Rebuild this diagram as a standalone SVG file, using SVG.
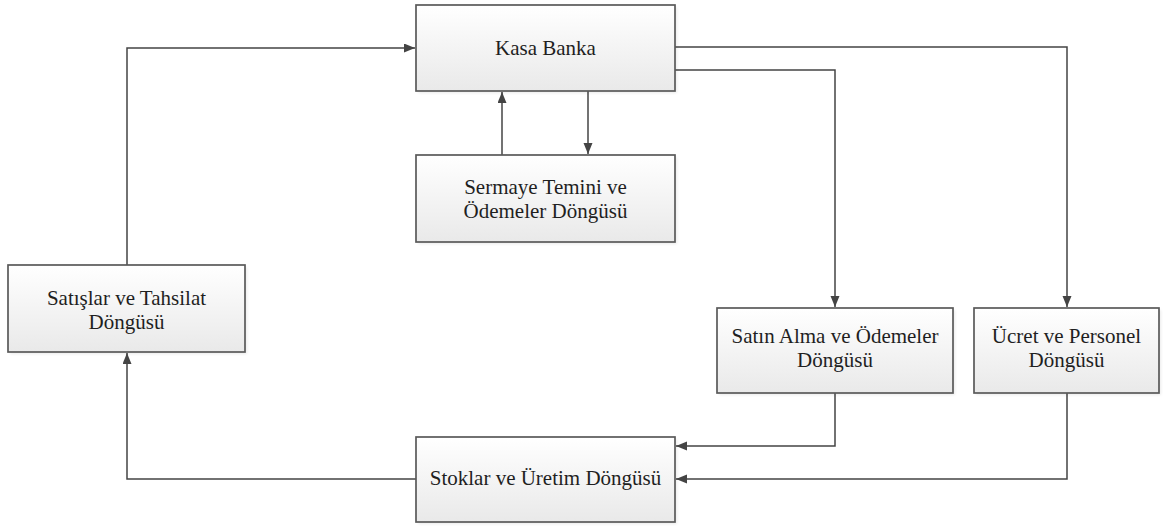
<svg xmlns="http://www.w3.org/2000/svg" width="1167" height="527" viewBox="0 0 1167 527">
  <style>
    .box { fill: url(#boxFill); stroke: #5a5a5a; stroke-width: 1.7; }
    .shadow { fill: #000; opacity: 0.08; }
    .label { font-family: 'Liberation Serif', 'Times New Roman', serif; font-size: 21px; fill: #1f1f1f; text-anchor: middle; }
    .link { fill: none; stroke: #444; stroke-width: 1.5; marker-end: url(#arrow); }
  </style>
  <defs>
    <linearGradient id="boxFill" x1="0" y1="0" x2="0" y2="1">
      <stop offset="0" stop-color="#ffffff"/>
      <stop offset="1" stop-color="#e9e9e9"/>
    </linearGradient>
    <filter id="soft" x="-10%" y="-10%" width="120%" height="130%">
      <feGaussianBlur stdDeviation="1.5"/>
    </filter>
    <marker id="arrow" markerUnits="userSpaceOnUse" markerWidth="12" markerHeight="10" refX="11" refY="4.5" orient="auto">
      <path d="M0,0 L11,4.5 L0,9 z" fill="#444"/>
    </marker>
  </defs>

  <!-- connectors -->
  <g id="connectors">
    <path class="link" d="M127,265 V48 H415"/>
    <path class="link" d="M502,155 V92"/>
    <path class="link" d="M588,91 V154"/>
    <path class="link" d="M675,47 H1067 V307"/>
    <path class="link" d="M675,70 H835 V307"/>
    <path class="link" d="M835,393 V446 H676"/>
    <path class="link" d="M1067,393 V479 H676"/>
    <path class="link" d="M416,479 H127 V353"/>
  </g>

  <g id="kasa-banka">
    <rect class="shadow" x="418" y="7" width="259" height="86" filter="url(#soft)"/>
    <rect class="box" x="416" y="5" width="259" height="86"/>
    <text class="label" x="545.5" y="55">Kasa Banka</text>
  </g>

  <g id="sermaye">
    <rect class="shadow" x="418" y="157" width="259" height="87" filter="url(#soft)"/>
    <rect class="box" x="416" y="155" width="259" height="87"/>
    <text class="label" x="545.5" y="194">Sermaye Temini ve</text>
    <text class="label" x="545.5" y="218">Ödemeler Döngüsü</text>
  </g>

  <g id="satislar">
    <rect class="shadow" x="10" y="267" width="237" height="87" filter="url(#soft)"/>
    <rect class="box" x="8" y="265" width="237" height="87"/>
    <text class="label" x="126.5" y="305">Satışlar ve Tahsilat</text>
    <text class="label" x="126.5" y="329">Döngüsü</text>
  </g>

  <g id="satin-alma">
    <rect class="shadow" x="719" y="310" width="236" height="85" filter="url(#soft)"/>
    <rect class="box" x="717" y="308" width="236" height="85"/>
    <text class="label" x="835" y="343">Satın Alma ve Ödemeler</text>
    <text class="label" x="835" y="367">Döngüsü</text>
  </g>

  <g id="ucret">
    <rect class="shadow" x="976" y="310" width="185" height="85" filter="url(#soft)"/>
    <rect class="box" x="974" y="308" width="185" height="85"/>
    <text class="label" x="1066.5" y="343">Ücret ve Personel</text>
    <text class="label" x="1066.5" y="367">Döngüsü</text>
  </g>

  <g id="stoklar">
    <rect class="shadow" x="418" y="439" width="259" height="85" filter="url(#soft)"/>
    <rect class="box" x="416" y="437" width="259" height="85"/>
    <text class="label" x="545.5" y="485">Stoklar ve Üretim Döngüsü</text>
  </g>
</svg>
